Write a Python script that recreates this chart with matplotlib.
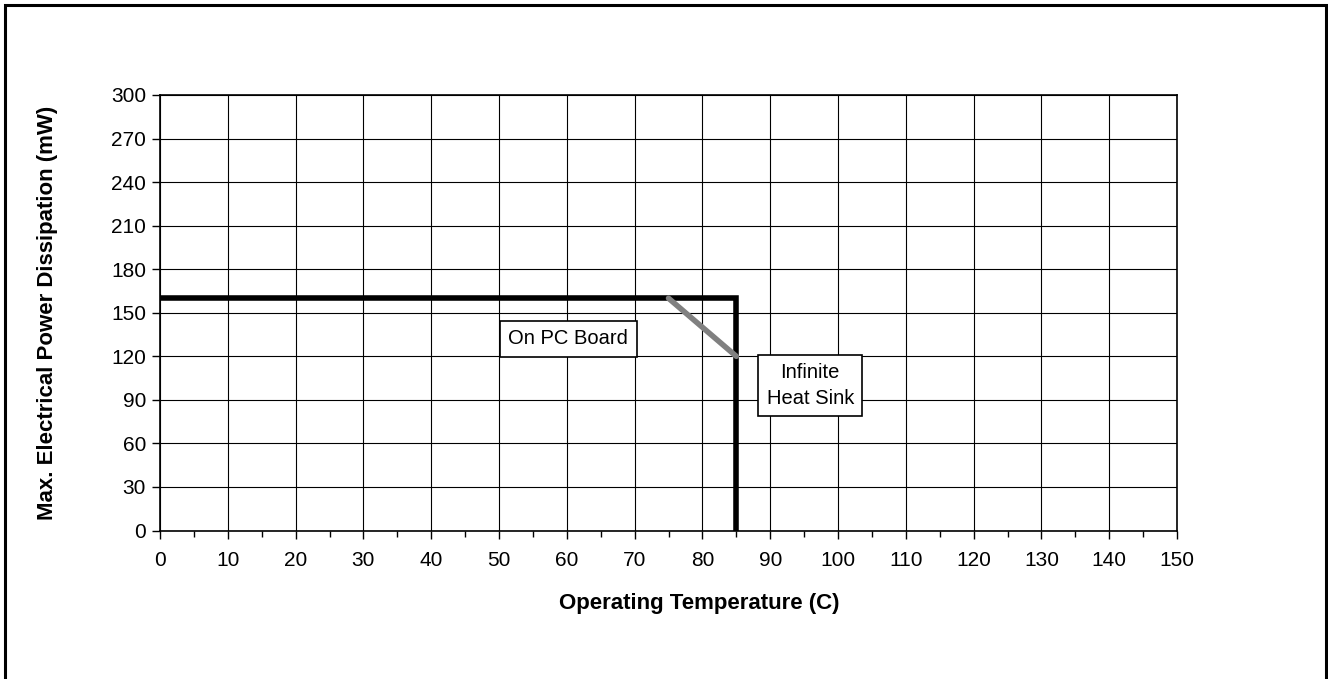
import matplotlib
matplotlib.use("Agg")
import matplotlib.pyplot as plt
from matplotlib.patches import Rectangle

plt.rcParams['font.family'] = ['Liberation Sans', 'DejaVu Sans']

# Data
board_temp = [0, 85, 85]
board_power = [160, 160, 0]
sink_temp = [75, 85]
sink_power = [160, 120]
x_ticks = list(range(0, 151, 10))
y_ticks = list(range(0, 301, 30))
label_board = "On PC Board"
label_sink = "Infinite\nHeat Sink"

fig = plt.figure(figsize=(13.28, 6.79), dpi=100)
ax = fig.add_axes([160/1328, 1-530.5/679, (1177-160)/1328, (530.5-95)/679])

# outer frame
fig.patches.append(Rectangle((4.5/1328, -0.05), (1326-4.5)/1328, 1.05 - 4.5/679,
                             transform=fig.transFigure, fill=False,
                             edgecolor='black', linewidth=2.2, zorder=0))

ax.set_xlim(0, 150)
ax.set_ylim(0, 300)
ax.set_xticks(x_ticks)
ax.set_yticks(y_ticks)
ax.set_xticks(list(range(5, 150, 10)), minor=True)
ax.grid(True, which='major', color='black', linewidth=0.8)
ax.set_axisbelow(True)
for s in ax.spines.values():
    s.set_linewidth(1.2)
ax.tick_params(axis='both', which='major', direction='out', length=6, width=1,
               labelsize=15, pad=4)
ax.tick_params(axis='x', which='minor', direction='out', length=4, width=1)
ax.tick_params(axis='x', pad=9)

ax.plot(board_temp, board_power, color='black', linewidth=4, solid_joinstyle='miter', zorder=3)
ax.plot(sink_temp, sink_power, color='#808080', linewidth=4, solid_capstyle='round', zorder=4)

ax.text(60.2, 132, label_board, fontsize=14.5, ha='center', va='center',
        bbox=dict(boxstyle='square,pad=0.42', facecolor='white', edgecolor='black', linewidth=1.2), zorder=5)
ax.text(95.9, 100, label_sink, fontsize=14.5, ha='center', va='center', linespacing=1.45,
        bbox=dict(boxstyle='square,pad=0.42', facecolor='white', edgecolor='black', linewidth=1.2), zorder=5)

fig.text(699/1328, 1-603/679, "Operating Temperature (C)", fontsize=16, fontweight='bold',
         ha='center', va='center')
fig.text(48/1328, 1-313/679, "Max. Electrical Power Dissipation (mW)", fontsize=16,
         fontweight='bold', ha='center', va='center', rotation=90)

fig.savefig("out.png", dpi=100)
